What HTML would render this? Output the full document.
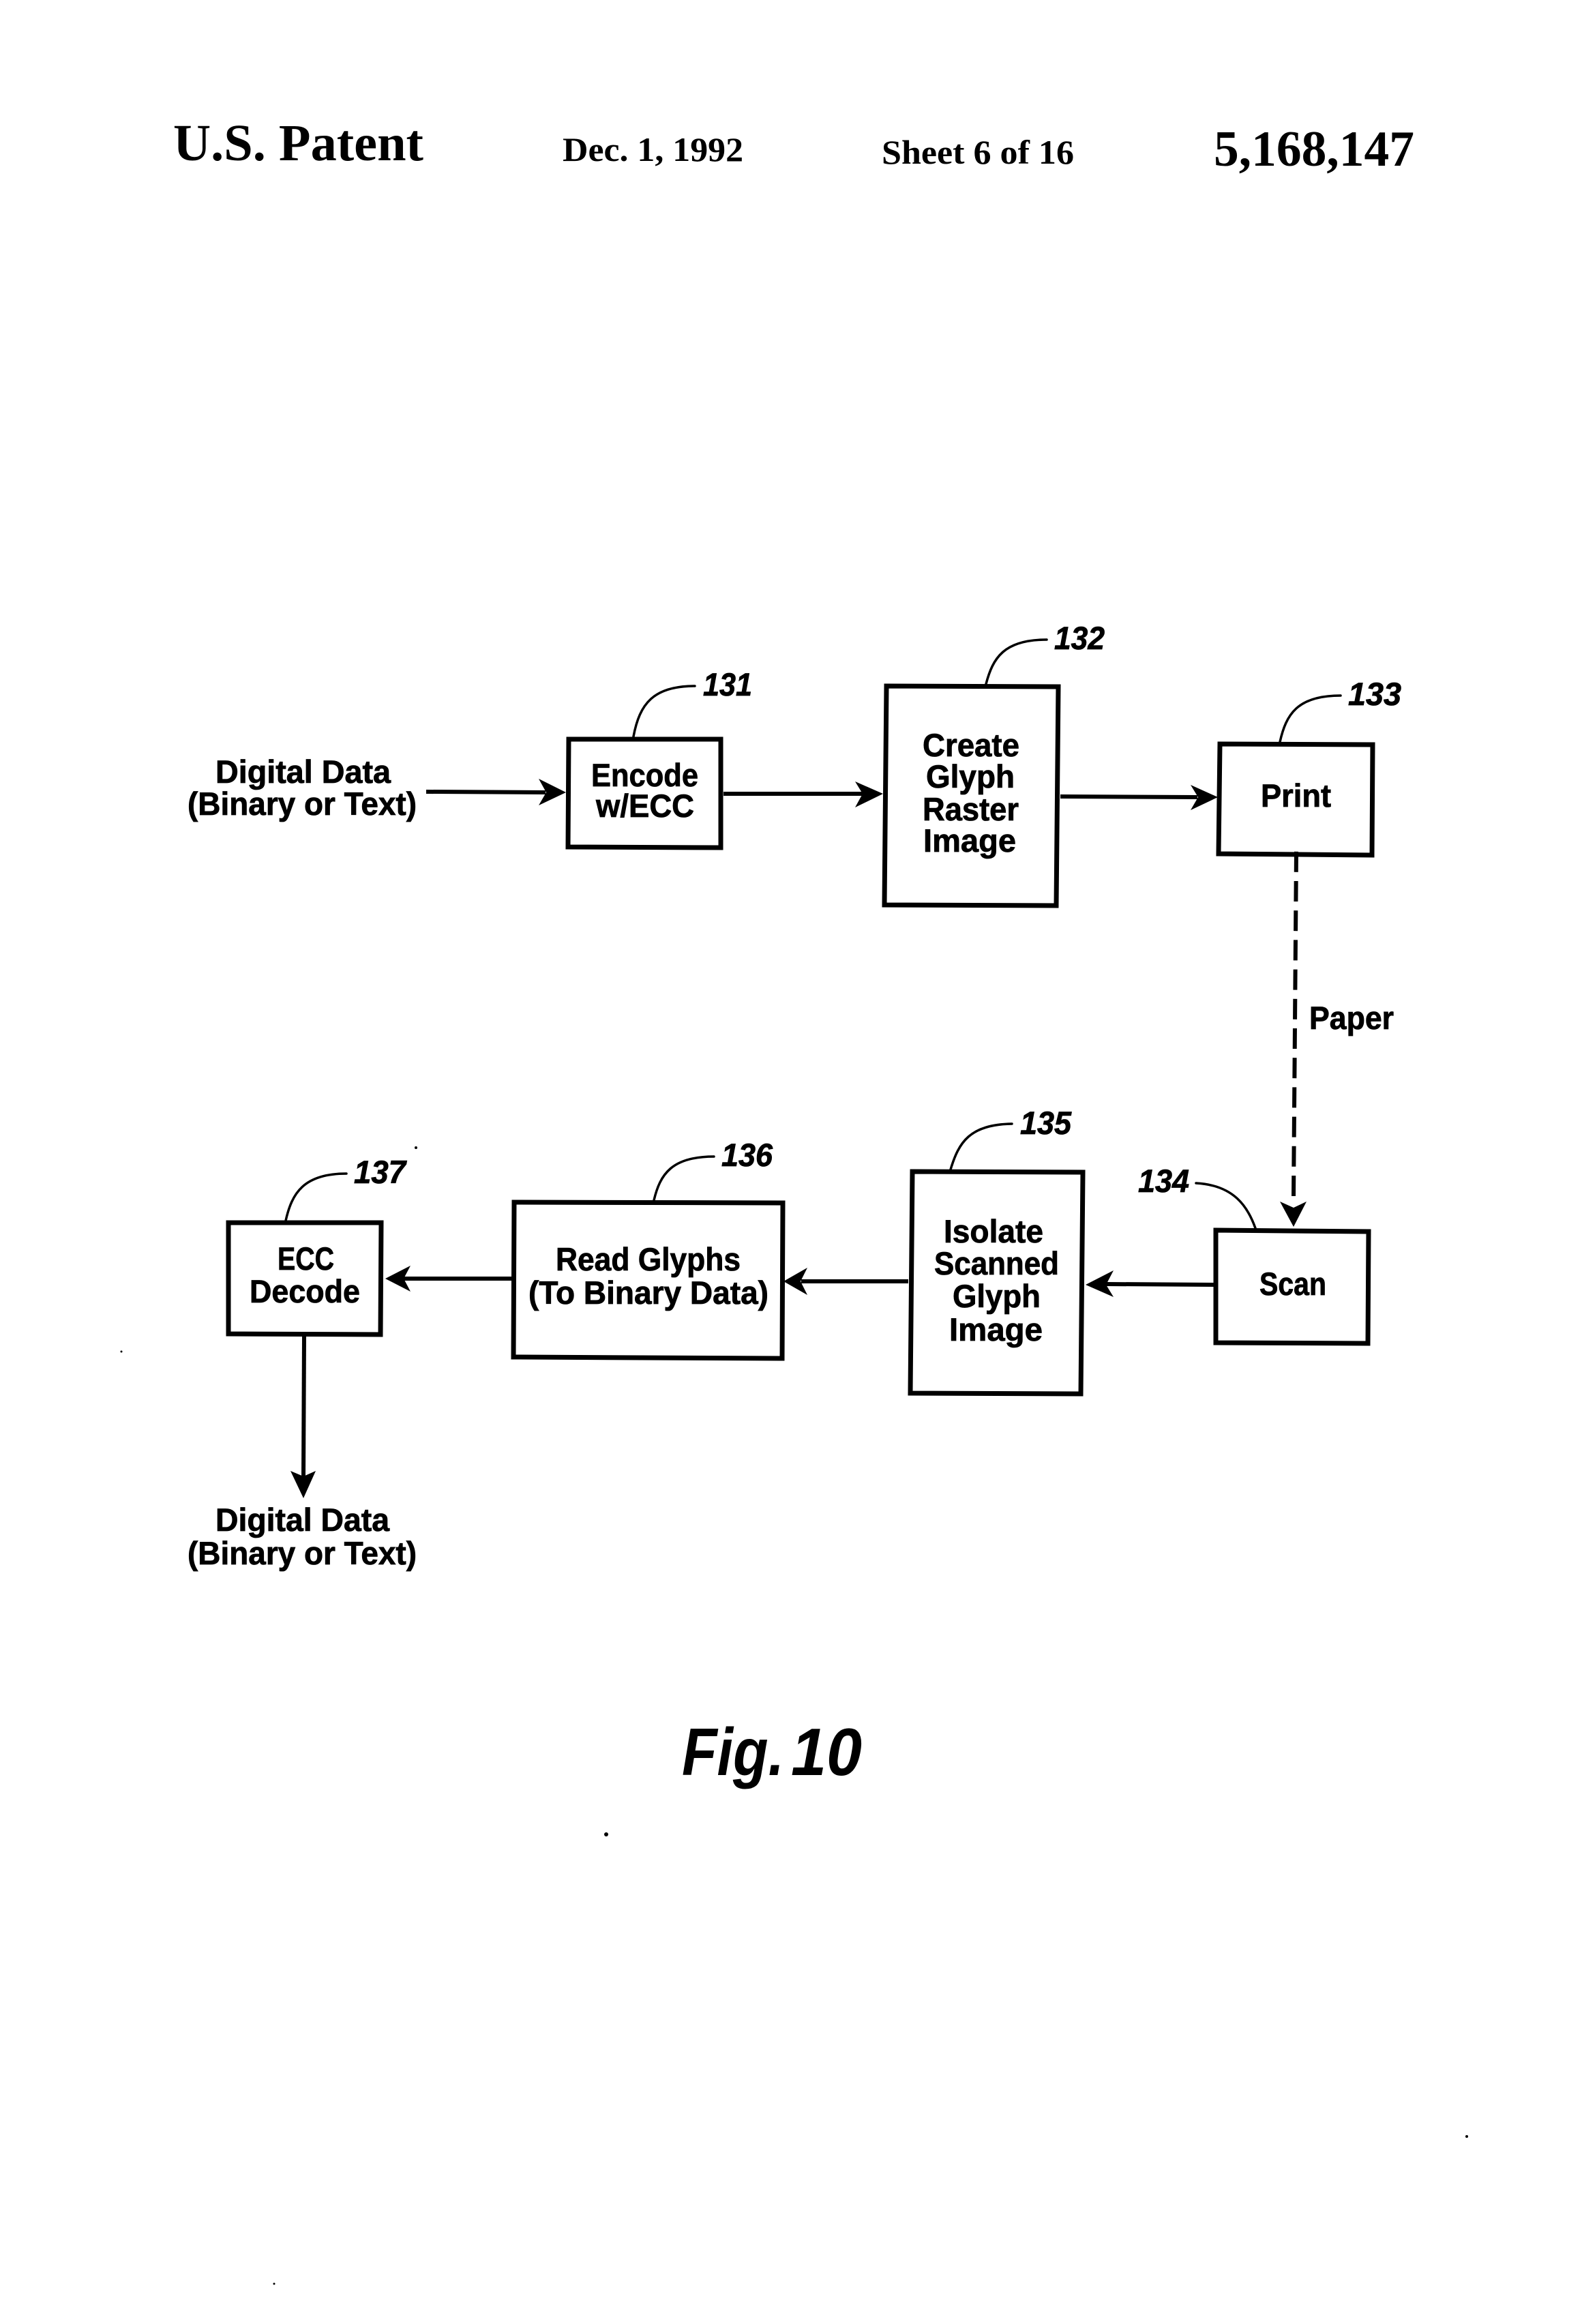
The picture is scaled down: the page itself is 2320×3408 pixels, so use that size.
<!DOCTYPE html>
<html lang="en">
<head>
<meta charset="utf-8">
<title>U.S. Patent 5,168,147 — Fig. 10</title>
<style>
html,body{margin:0;padding:0;background:#fff}
svg{display:block}
.s{font-family:"Liberation Sans",sans-serif;font-weight:700;font-size:47px;fill:#000;stroke:#000;stroke-width:.8}
.r{font-family:"Liberation Sans",sans-serif;font-weight:700;font-style:italic;font-size:47px;fill:#000;stroke:#000;stroke-width:.8}
.f{font-family:"Liberation Sans",sans-serif;font-weight:700;font-style:italic;font-size:98px;fill:#000}
.h{font-family:"Liberation Serif",serif;font-weight:700;fill:#000}
.b{fill:none;stroke:#000;stroke-width:7;stroke-linejoin:miter}
.c{fill:none;stroke:#000;stroke-width:3.5;stroke-linecap:round}
.l{fill:none;stroke:#000;stroke-width:6}
</style>
</head>
<body>
<svg xmlns="http://www.w3.org/2000/svg" width="2320" height="3408" viewBox="0 0 2320 3408">
<rect width="2320" height="3408" fill="#fff"/>

<!-- Header -->
<text class="h" x="254" y="235" font-size="76" textLength="367" lengthAdjust="spacingAndGlyphs">U.S. Patent</text>
<text class="h" x="825" y="236" font-size="50" textLength="265" lengthAdjust="spacingAndGlyphs">Dec. 1, 1992</text>
<text class="h" x="1293" y="240" font-size="50" textLength="282" lengthAdjust="spacingAndGlyphs">Sheet 6 of 16</text>
<text class="h" x="1780" y="243" font-size="74" textLength="294" lengthAdjust="spacingAndGlyphs">5,168,147</text>

<!-- Connector lines -->
<line class="l" x1="625" y1="1161" x2="800" y2="1162"/>
<line class="l" x1="1061" y1="1164" x2="1265" y2="1164"/>
<line class="l" x1="1555" y1="1168" x2="1756" y2="1169"/>
<line x1="1901" y1="1248.8" x2="1897" y2="1756" stroke="#000" stroke-width="6" stroke-dasharray="30 13.2" fill="none"/>
<line class="l" x1="1780" y1="1884" x2="1622" y2="1883"/>
<line class="l" x1="1332" y1="1879" x2="1175" y2="1879"/>
<line class="l" x1="750" y1="1875" x2="592" y2="1875"/>
<line class="l" x1="446" y1="1960" x2="445" y2="2167"/>

<!-- Arrowheads -->
<polygon points="830,1162 790,1142 801,1162 790,1181"/>
<polygon points="1295,1164 1254,1146 1265,1164 1254,1184"/>
<polygon points="1786,1169 1746,1151 1757,1169 1746,1188"/>
<polygon points="1897,1799 1877,1762 1897,1771 1916,1762"/>
<polygon points="1592,1884 1633,1863 1622,1884 1633,1902"/>
<polygon points="1149,1879 1184,1859 1174,1879 1184,1899"/>
<polygon points="565,1875 602,1856 592,1875 602,1894"/>
<polygon points="445,2197 426,2157 445,2165 463,2157"/>

<!-- Boxes -->
<polygon class="b" points="834,1084 1057,1084 1057,1243 833,1242"/>
<polygon class="b" points="1300,1006 1552,1007 1549,1328 1297,1327"/>
<polygon class="b" points="1789,1091 2013,1092 2012,1254 1787,1252"/>
<polygon class="b" points="1783,1804 2007,1806 2006,1970 1783,1969"/>
<polygon class="b" points="1338,1718 1588,1719 1585,2044 1335,2043"/>
<polygon class="b" points="754,1763 1148,1764 1147,1992 753,1990"/>
<polygon class="b" points="335,1793 559,1793 558,1957 335,1956"/>

<!-- Leader curves -->
<path class="c" d="M929,1080 C938,1032 958,1006 1019,1006"/>
<path class="c" d="M1446,1003 C1456,965 1472,938 1535,938"/>
<path class="c" d="M1877,1088 C1886,1048 1902,1020 1966,1020"/>
<path class="c" d="M1754,1735 C1810,1738 1830,1770 1841,1801"/>
<path class="c" d="M1394,1715 C1406,1675 1422,1649 1484,1648"/>
<path class="c" d="M959,1760 C968,1722 985,1696 1047,1696"/>
<path class="c" d="M419,1790 C428,1750 445,1721 508,1721"/>

<!-- Node text -->
<text class="s" x="316" y="1148" textLength="257" lengthAdjust="spacingAndGlyphs">Digital Data</text>
<text class="s" x="275" y="1195" textLength="336" lengthAdjust="spacingAndGlyphs">(Binary or Text)</text>

<text class="s" x="867" y="1153" textLength="157" lengthAdjust="spacingAndGlyphs">Encode</text>
<text class="s" x="874" y="1198" textLength="144" lengthAdjust="spacingAndGlyphs">w/ECC</text>

<text class="s" x="1353" y="1109" textLength="142" lengthAdjust="spacingAndGlyphs">Create</text>
<text class="s" x="1358" y="1155" textLength="130" lengthAdjust="spacingAndGlyphs">Glyph</text>
<text class="s" x="1353" y="1203" textLength="141" lengthAdjust="spacingAndGlyphs">Raster</text>
<text class="s" x="1354" y="1249" textLength="136" lengthAdjust="spacingAndGlyphs">Image</text>

<text class="s" x="1849" y="1183" textLength="103" lengthAdjust="spacingAndGlyphs">Print</text>
<text class="s" x="1920" y="1509" textLength="124" lengthAdjust="spacingAndGlyphs">Paper</text>
<text class="s" x="1847" y="1899" textLength="98" lengthAdjust="spacingAndGlyphs">Scan</text>

<text class="s" x="1384" y="1822" textLength="146" lengthAdjust="spacingAndGlyphs">Isolate</text>
<text class="s" x="1370" y="1869" textLength="183" lengthAdjust="spacingAndGlyphs">Scanned</text>
<text class="s" x="1397" y="1917" textLength="129" lengthAdjust="spacingAndGlyphs">Glyph</text>
<text class="s" x="1392" y="1966" textLength="137" lengthAdjust="spacingAndGlyphs">Image</text>

<text class="s" x="815" y="1863" textLength="271" lengthAdjust="spacingAndGlyphs">Read Glyphs</text>
<text class="s" x="775" y="1912" textLength="352" lengthAdjust="spacingAndGlyphs">(To Binary Data)</text>

<text class="s" x="407" y="1862" textLength="83" lengthAdjust="spacingAndGlyphs">ECC</text>
<text class="s" x="366" y="1910" textLength="162" lengthAdjust="spacingAndGlyphs">Decode</text>

<text class="s" x="316" y="2245" textLength="255" lengthAdjust="spacingAndGlyphs">Digital Data</text>
<text class="s" x="275" y="2294" textLength="336" lengthAdjust="spacingAndGlyphs">(Binary or Text)</text>

<!-- Reference numerals -->
<text class="r" x="1031" y="1020" textLength="72" lengthAdjust="spacingAndGlyphs">131</text>
<text class="r" x="1546" y="952" textLength="74" lengthAdjust="spacingAndGlyphs">132</text>
<text class="r" x="1977" y="1034" textLength="78" lengthAdjust="spacingAndGlyphs">133</text>
<text class="r" x="1669" y="1748" textLength="75" lengthAdjust="spacingAndGlyphs">134</text>
<text class="r" x="1496" y="1663" textLength="75" lengthAdjust="spacingAndGlyphs">135</text>
<text class="r" x="1058" y="1710" textLength="75" lengthAdjust="spacingAndGlyphs">136</text>
<text class="r" x="519" y="1735" textLength="76" lengthAdjust="spacingAndGlyphs">137</text>

<!-- Figure label -->
<text class="f" x="1000" y="2603" textLength="150" lengthAdjust="spacingAndGlyphs">Fig.</text>
<text class="f" x="1160" y="2603" textLength="104" lengthAdjust="spacingAndGlyphs">10</text>

<!-- Scan specks -->
<circle cx="610" cy="1683" r="2"/>
<circle cx="889" cy="2690" r="3"/>
<circle cx="2151" cy="3133" r="2"/>
<circle cx="402" cy="3349" r="1.5"/>
<circle cx="178" cy="1982" r="1.5"/>
</svg>
</body>
</html>
